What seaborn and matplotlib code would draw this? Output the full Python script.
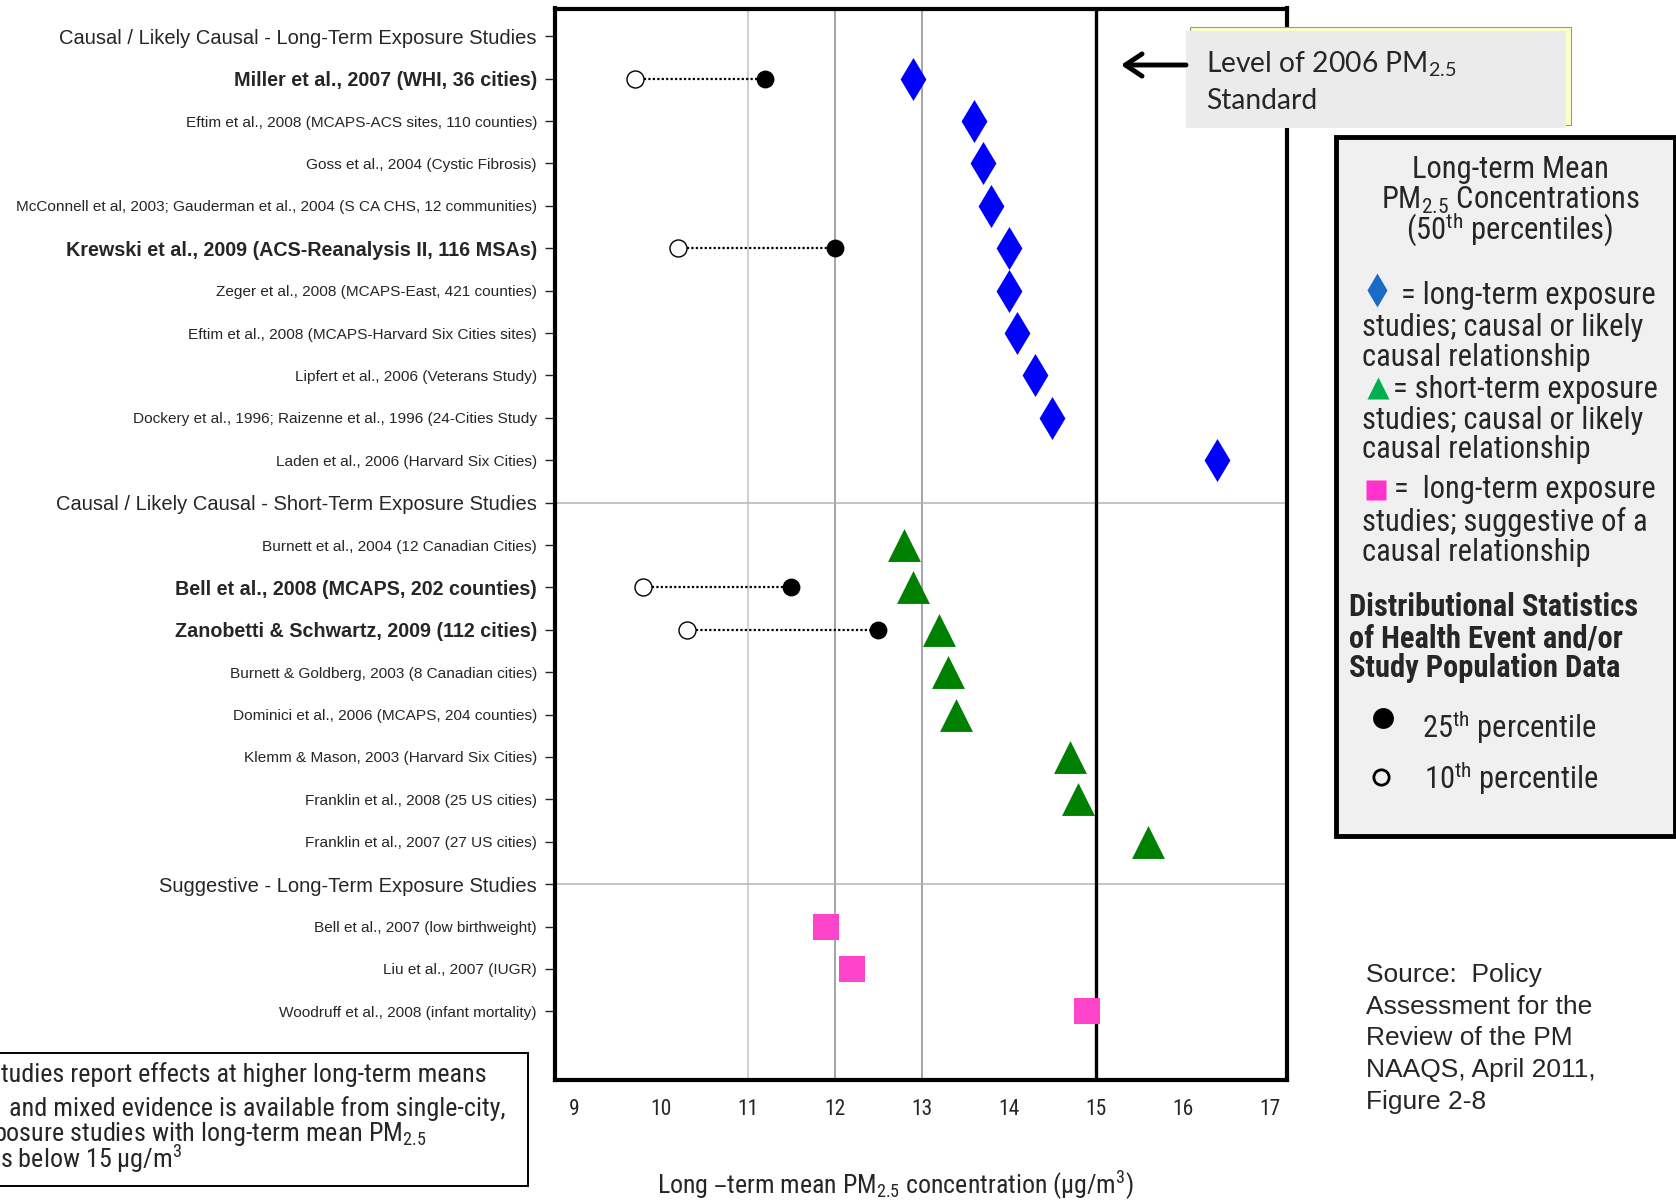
import numpy as np
import pandas as pd
import matplotlib
matplotlib.use("Agg")
import matplotlib.pyplot as plt
import seaborn as sns
from matplotlib import font_manager
from matplotlib.font_manager import FontProperties
from matplotlib.patches import Rectangle, FancyArrowPatch
from matplotlib.lines import Line2D

# rows of the chart, top to bottom
study_labels = [
    "Causal / Likely Causal - Long-Term Exposure Studies",
    "Miller et al., 2007 (WHI, 36 cities)",
    "Eftim et al., 2008 (MCAPS-ACS sites, 110 counties)",
    "Goss et al., 2004 (Cystic Fibrosis)",
    "McConnell et al, 2003; Gauderman et al., 2004 (S CA CHS, 12 communities)",
    "Krewski et al., 2009 (ACS-Reanalysis II, 116 MSAs)",
    "Zeger et al., 2008 (MCAPS-East, 421 counties)",
    "Eftim et al., 2008 (MCAPS-Harvard Six Cities sites)",
    "Lipfert et al., 2006 (Veterans Study)",
    "Dockery et al., 1996; Raizenne et al., 1996 (24-Cities Study",
    "Laden et al., 2006 (Harvard Six Cities)",
    "Causal / Likely Causal - Short-Term Exposure Studies",
    "Burnett et al., 2004 (12 Canadian Cities)",
    "Bell et al., 2008 (MCAPS, 202 counties)",
    "Zanobetti & Schwartz, 2009 (112 cities)",
    "Burnett & Goldberg, 2003 (8 Canadian cities)",
    "Dominici et al., 2006 (MCAPS, 204 counties)",
    "Klemm & Mason, 2003 (Harvard Six Cities)",
    "Franklin et al., 2008 (25 US cities)",
    "Franklin et al., 2007 (27 US cities)",
    "Suggestive - Long-Term Exposure Studies",
    "Bell et al., 2007 (low birthweight)",
    "Liu et al., 2007 (IUGR)",
    "Woodruff et al., 2008 (infant mortality)",
]
header_labels = [study_labels[0], study_labels[11], study_labels[20]]
bold_labels = [study_labels[1], study_labels[5], study_labels[13], study_labels[14]]

# long-term mean PM2.5 (50th percentile)
lt_causal_studies = study_labels[1:11]
lt_causal_mean = [12.9, 13.6, 13.7, 13.8, 14.0, 14.0, 14.1, 14.3, 14.5, 16.4]
st_causal_studies = study_labels[12:20]
st_causal_mean = [12.8, 12.9, 13.2, 13.3, 13.4, 14.7, 14.8, 15.6]
suggestive_studies = study_labels[21:24]
suggestive_mean = [11.9, 12.2, 14.9]

# distributional statistics
dist_studies = [study_labels[1], study_labels[5], study_labels[13], study_labels[14]]
pct25 = [11.2, 12.0, 11.5, 12.5]
pct10 = [9.7, 10.2, 9.8, 10.3]

x_ticks = [9, 10, 11, 12, 13, 14, 15, 16, 17]

# ---------------------------------------------------------------
W, H = 1676, 1201


def fx(px):
    return px / W


def fy(py):
    return 1 - py / H


def weight_num(w):
    if isinstance(w, (int, float)):
        return w
    return font_manager.weight_dict.get(w, 400)


STRETCH_RANK = {"condensed": 0, "semi-condensed": 1, "extra-condensed": 2, "ultra-condensed": 3}
NAME_RANK = ["Liberation Sans Narrow", "Arial Narrow", "Roboto Condensed", "Noto Sans",
             "Open Sans", "Roboto", "DejaVu Sans"]


def find_narrow(bold):
    best, best_key = None, None
    for f in font_manager.fontManager.ttflist:
        st = f.stretch if isinstance(f.stretch, str) else "normal"
        is_narrow = ("Narrow" in f.name or "Condensed" in f.name or st in STRETCH_RANK)
        if not is_narrow or f.style != "normal":
            continue
        w = weight_num(f.weight)
        if bold and not (600 <= w <= 750):
            continue
        if not bold and not (350 <= w <= 450):
            continue
        nr = [i for i, n in enumerate(NAME_RANK) if f.name.startswith(n)]
        key = (nr[0] if nr else 99, STRETCH_RANK.get(st, 0))
        if best_key is None or key < best_key:
            best, best_key = f.fname, key
    return best


NARROW_FILE = find_narrow(False)
NARROW_BOLD_FILE = find_narrow(True) or NARROW_FILE
available = {f.name for f in font_manager.fontManager.ttflist}
GILL = "Lato" if "Lato" in available else "DejaVu Sans"


def narrow_prop(size, bold=False):
    fname = NARROW_BOLD_FILE if bold else NARROW_FILE
    if fname is None:
        return FontProperties(family="Liberation Sans", size=size * 0.86,
                              weight="bold" if bold else "normal")
    return FontProperties(fname=fname, size=size)


sns.set_style("white")
plt.rcParams["font.family"] = ["Liberation Sans", "DejaVu Sans"]
plt.rcParams["mathtext.default"] = "regular"

pos = {lab: i for i, lab in enumerate(study_labels)}
df = pd.concat([
    pd.DataFrame({"study": lt_causal_studies, "mean": lt_causal_mean, "group": "lt"}),
    pd.DataFrame({"study": st_causal_studies, "mean": st_causal_mean, "group": "st"}),
    pd.DataFrame({"study": suggestive_studies, "mean": suggestive_mean, "group": "sg"}),
])
df["y"] = df["study"].map(pos)
dist = pd.DataFrame({"study": dist_studies, "p25": pct25, "p10": pct10})
dist["y"] = dist["study"].map(pos)

fig = plt.figure(figsize=(W / 100, H / 100), dpi=100)
ax = fig.add_axes([fx(555), fy(1080), (1287 - 555) / W, (1080 - 8.5) / H])

# grid lines
ax.axvline(11, color="#c4c4c4", lw=1.1, zorder=0)
ax.axvline(12, color="#8c8c8c", lw=1.1, zorder=0)
ax.axvline(13, color="#8c8c8c", lw=1.1, zorder=0)
ax.axvline(15, color="black", lw=2.4, zorder=1)
for h in [pos[header_labels[1]], pos[header_labels[2]]]:
    ax.axhline(h, color="#b4b4b4", lw=1.1, zorder=0)

# percentile connectors
ax.hlines(dist["y"], dist["p10"], dist["p25"], colors="black", linestyles=(0, (1, 1)), lw=1.6, zorder=2)
sns.scatterplot(data=dist, x="p25", y="y", marker="o", s=165, color="black", linewidth=0, ax=ax, zorder=3)
sns.scatterplot(data=dist, x="p10", y="y", marker="o", s=150, facecolor="white", edgecolor="black",
                linewidth=1, ax=ax, zorder=3)

sns.scatterplot(data=df[df.group == "lt"], x="mean", y="y", marker="d", s=480, color="#0000ff",
                linewidth=0, ax=ax, zorder=3)
sns.scatterplot(data=df[df.group == "st"], x="mean", y="y", marker="^", s=560, color="#008000",
                linewidth=0, ax=ax, zorder=3)
sns.scatterplot(data=df[df.group == "sg"], x="mean", y="y", marker="s", s=350, color="#ff44cc",
                linewidth=0, ax=ax, zorder=3)

ax.set_xlim(8.785, 17.2)
ax.set_ylim(len(study_labels) - 1 + 1.62, -0.656)
ax.set_xlabel("")
ax.set_ylabel("")

ax.set_xticks(x_ticks)
ax.set_xticklabels([str(t) for t in x_ticks])
minor = [round(v, 1) for v in np.arange(9, 17.001, 0.1) if abs(v - round(v)) > 1e-6]
ax.set_xticks(minor, minor=True)
ax.tick_params(axis="x", which="major", length=6, width=1, direction="out", pad=8)
ax.tick_params(axis="x", which="minor", length=3, width=0.8, direction="out")
for t in ax.get_xticklabels():
    t.set_fontproperties(narrow_prop(15.5))

ax.set_yticks(range(len(study_labels)))
ax.set_yticklabels(study_labels)
ax.tick_params(axis="y", length=7.2, width=1, direction="out", pad=5.8, left=True)
for t in ax.get_yticklabels():
    lab = t.get_text()
    if lab in header_labels:
        t.set_fontsize(14.5)
    elif lab in bold_labels:
        t.set_fontsize(14.2)
        t.set_fontweight("bold")
    else:
        t.set_fontsize(11.1)

for sp in ax.spines.values():
    sp.set_linewidth(3)
    sp.set_color("black")
    sp.set_visible(True)

# x axis title
fig.text(fx(895), fy(1185), r"Long –term mean PM$_{2.5}$ concentration (μg/m$^3$)",
         ha="center", va="center", fontproperties=narrow_prop(18.6))

# ------- "Level of 2006 PM2.5 Standard" callout -------
fig.add_artist(Rectangle((fx(1190), fy(125)), (1571 - 1190) / W, (125 - 27) / H, transform=fig.transFigure,
                         facecolor="#ffffc8", edgecolor="#9a9a80", lw=0.8, zorder=5))
fig.add_artist(Rectangle((fx(1186), fy(128)), (1566 - 1186) / W, (128 - 31) / H, transform=fig.transFigure,
                         facecolor="#ebebeb", edgecolor="none", zorder=6))
fig.text(fx(1206), fy(64), r"Level of 2006 PM$_{2.5}$", ha="left", va="center", fontsize=20.3,
         family=GILL, zorder=7)
fig.text(fx(1206), fy(101), "Standard", ha="left", va="center", fontsize=20.3, family=GILL, zorder=7)
fig.add_artist(FancyArrowPatch((fx(1186), fy(65)), (fx(1121), fy(65)), transform=fig.transFigure,
                               arrowstyle="->,head_length=0.6,head_width=0.4", mutation_scale=20,
                               lw=3.5, color="black", shrinkA=0, shrinkB=0, zorder=7))

# ------- legend panel -------
fig.add_artist(Rectangle((fx(1336), fy(836)), (1675 - 1336) / W, (836 - 137) / H, transform=fig.transFigure,
                         facecolor="#f0f0f0", edgecolor="black", lw=3.5, zorder=5))


def ltext(x, y, s, bold=False, ha="left", size=22):
    fig.text(fx(x), fy(y), s, ha=ha, va="center", fontproperties=narrow_prop(size, bold), zorder=7)


ltext(1510, 170, "Long-term Mean", ha="center")
ltext(1510, 200, r"PM$_{2.5}$ Concentrations", ha="center")
ltext(1510, 230, r"(50$^{th}$ percentiles)", ha="center")

ltext(1401, 295, "= long-term exposure")
ltext(1362, 327, "studies; causal or likely")
ltext(1362, 358, "causal relationship")
ltext(1393, 389, "= short-term exposure")
ltext(1362, 420, "studies; causal or likely")
ltext(1362, 450, "causal relationship")
ltext(1394, 490, "=  long-term exposure")
ltext(1362, 522, "studies; suggestive of a")
ltext(1362, 552, "causal relationship")

ltext(1349, 607, "Distributional Statistics", bold=True)
ltext(1349, 638, "of Health Event and/or", bold=True)
ltext(1349, 668, "Study Population Data", bold=True)
ltext(1422, 727, r"25$^{th}$ percentile")
ltext(1424, 778, r"10$^{th}$ percentile")

sym_kw = dict(transform=fig.transFigure, linestyle="none", zorder=7)
fig.add_artist(Line2D([fx(1377)], [fy(290)], marker="d", markersize=17, color="#1a6bc6", mec="none", **sym_kw))
fig.add_artist(Line2D([fx(1378)], [fy(388)], marker="^", markersize=16, color="#00b050", mec="none", **sym_kw))
fig.add_artist(Line2D([fx(1376)], [fy(490)], marker="s", markersize=14, color="#ff33cc", mec="none", **sym_kw))
fig.add_artist(Line2D([fx(1383)], [fy(718)], marker="o", markersize=15, color="black", mec="none", **sym_kw))
fig.add_artist(Line2D([fx(1381)], [fy(777)], marker="o", markersize=11, mfc="none", mec="black", mew=2, **sym_kw))

# ------- note box (cut off at the left edge) -------
fig.add_artist(Rectangle((fx(-10), fy(1186)), (528 + 10) / W, (1186 - 1053) / H, transform=fig.transFigure,
                         facecolor="white", edgecolor="black", lw=1.4, zorder=5))
note_lines = ["tudies report effects at higher long-term means",
              "and mixed evidence is available from single-city,",
              r"posure studies with long-term mean PM$_{2.5}$",
              r"s below 15 μg/m$^3$"]
note_x = [1, 9, -7, 0]
note_y = [1075, 1109, 1134, 1159]
for s, x, y in zip(note_lines, note_x, note_y):
    fig.text(fx(x), fy(y), s, ha="left", va="center", fontproperties=narrow_prop(18.8), zorder=7)

# ------- source -------
source_lines = ["Source:  Policy", "Assessment for the", "Review of the PM", "NAAQS, April 2011,", "Figure 2-8"]
for i, line in enumerate(source_lines):
    fig.text(fx(1366), fy(975 + i * 31.7), line, ha="left", va="center", fontsize=19)

fig.savefig("out.png", dpi=100)
